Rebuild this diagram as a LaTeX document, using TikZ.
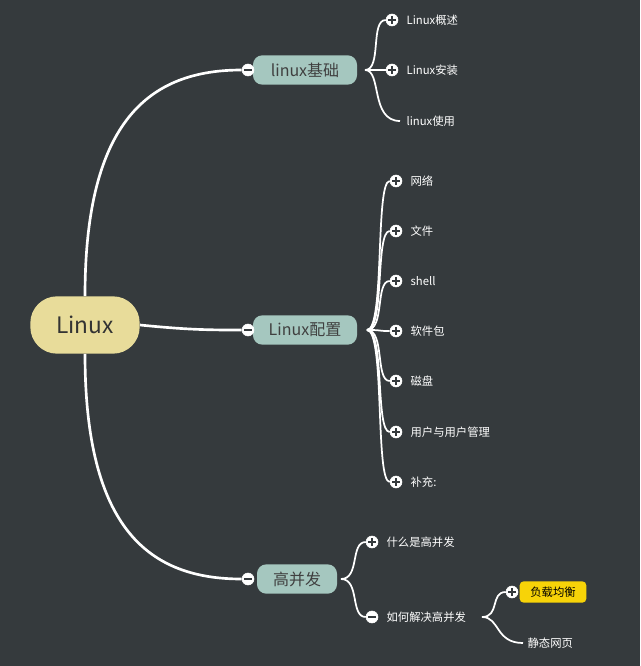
\documentclass[tikz,border=0pt]{standalone}
\usepackage{fontspec}
\setmainfont{Noto Sans CJK SC}
\definecolor{bg}{HTML}{353A3D}
\definecolor{rootc}{HTML}{E8DC9A}
\definecolor{mainc}{HTML}{A5C7BF}
\definecolor{yel}{HTML}{F7D308}
\begin{document}
\begin{tikzpicture}[x=0.75pt,y=-0.75pt,
  root/.style={draw=none,fill=rootc,rounded corners=20pt,minimum width=82pt,minimum height=43pt,font=\fontsize{17}{17}\selectfont,text=black!80},
  mainn/.style={fill=mainc,rounded corners=7pt,minimum height=22pt,minimum width=78pt,font=\fontsize{12}{12}\selectfont,text=black!75},
  leaf/.style={anchor=west,text=white,font=\fontsize{8.5}{9}\selectfont,inner sep=1pt},
  circ/.style={circle,fill=white,draw=white,minimum size=9pt,inner sep=0pt},
  plusc/.style={circ,path picture={\draw[bg,line width=1pt] ([xshift=-2.8pt]path picture bounding box.center)--([xshift=2.8pt]path picture bounding box.center) ([yshift=-2.8pt]path picture bounding box.center)--([yshift=2.8pt]path picture bounding box.center);}},
  minusc/.style={circ,path picture={\draw[bg,line width=1pt] ([xshift=-2.8pt]path picture bounding box.center)--([xshift=2.8pt]path picture bounding box.center);}},
  link/.style={draw=white,line width=1.3pt},
  blink/.style={draw=white,line width=2pt}]
\fill[bg] (0,0) rectangle (640,666);
\useasboundingbox (0,0) rectangle (640,666);
\node[root] (L) at (85,325) {Linux};
\node[mainn] (b1) at (305,70) {linux基础};
\node[mainn] (b2) at (305,330) {Linux配置};
\node[mainn,minimum width=60pt] (b3) at (297,579) {高并发};
\node[minusc] (m1) at (248,70) {};
\node[minusc] (m2) at (248,330) {};
\node[minusc] (m3) at (248,579) {};
\draw[blink] (L.north) .. controls (85,120) and (150,70) .. (m1.west);
\draw[blink] (L.east) .. controls (190,330) and (210,330) .. (m2.west);
\draw[blink] (L.south) .. controls (85,530) and (150,579) .. (m3.west);
% branch 1
\coordinate (s1) at (365,70);
\node[plusc] (c11) at (392,20) {};
\node[leaf] (t11) at (405,20) {Linux概述};
\node[plusc] (c12) at (392,70) {};
\node[leaf] (t12) at (405,70) {Linux安装};
\coordinate (c13) at (400,121);
\node[leaf] (t13) at (405,121) {linux使用};
\draw[link] (s1) .. controls (382,70) and (370,20) .. (c11.west);
\draw[link] (s1) -- (c12.west);
\draw[link] (s1) .. controls (382,70) and (370,121) .. (c13);
% branch 2
\coordinate (s2) at (367,330);
\foreach \n/\y/\t in {1/181/网络,2/231/文件,3/281/shell,4/331/软件包,5/381/磁盘,6/432/用户与用户管理,7/482/补充:}{
  \node[plusc] (c2\n) at (396,\y) {};
  \node[leaf] (t2\n) at (409,\y) {\t};
  \draw[link] (s2) .. controls (385,330) and (375,\y) .. (c2\n.west);
}
% branch 3
\coordinate (s3) at (341,579);
\node[plusc] (c31) at (372,542) {};
\node[leaf] (t31) at (385,542) {什么是高并发};
\node[minusc] (c32) at (372,617) {};
\node[leaf] (t32) at (385,617) {如何解决高并发};
\draw[link] (s3) .. controls (360,579) and (350,542) .. (c31.west);
\draw[link] (s3) .. controls (360,579) and (350,617) .. (c32.west);
\coordinate (s4) at (482,617);
\node[plusc] (c41) at (512,592) {};
\node[fill=yel,rounded corners=3pt,minimum width=50pt,minimum height=16pt,font=\fontsize{8.5}{9}\selectfont,text=black] (y1) at (553,592) {负载均衡};
\coordinate (c42) at (523,643);
\node[leaf] (t42) at (526,643) {静态网页};
\draw[link] (s4) .. controls (500,617) and (490,592) .. (c41.west);
\draw[link] (s4) .. controls (500,617) and (495,643) .. (c42);
\end{tikzpicture}
\end{document}
